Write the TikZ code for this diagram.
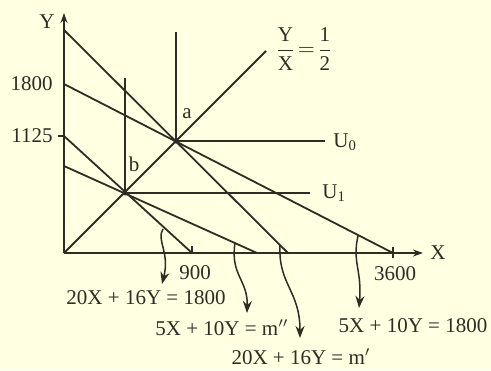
\documentclass[tikz,border=0pt]{standalone}
\usepackage{amsmath}
\usepackage{fontspec}
\setmainfont{Liberation Serif}
\usetikzlibrary{arrows.meta, calc}
\definecolor{PaperCream}{RGB}{255,255,225}
\definecolor{InkDark}{RGB}{45,45,35}

\begin{document}
\begin{tikzpicture}[x=0.5pt, y=-0.5pt, font=\fontsize{10.5}{12}\selectfont,
	linea/.style={draw=InkDark, line width=0.9pt},
	eje/.style={linea, -{Stealth[length=5pt, width=3.5pt]}},
	flecha/.style={draw=InkDark, line width=0.75pt, -{Stealth[length=6pt, width=4.5pt]}},
	etiq/.style={text=InkDark, inner sep=0pt}]

	\fill[PaperCream] (0,0) rectangle (491,370);
	\useasboundingbox (0,0) rectangle (491,370);

	% ejes
	\coordinate (O) at (64,253);
	\coordinate (Ytip) at (64,13);
	\coordinate (Xtip) at (423,253);
	\draw[eje] (O) -- (Ytip);
	\draw[eje] (O) -- (Xtip);
	\node[etiq] (ylab) at (47,22) {Y};
	\node[etiq] (xlab) at (438,253) {X};

	% puntos de equilibrio
	\coordinate (a) at (176,141);
	\coordinate (b) at (125,193);
	\fill[InkDark] (a) circle (2.5);
	\fill[InkDark] (b) circle (2.5);
	\node[etiq] (alab) at (187,114) {a};
	\node[etiq] (blab) at (134,164) {b};

	% rayo Y/X = 1/2 y curvas de indiferencia
	\coordinate (ray) at (266,51);
	\draw[linea] (O) -- (ray);
	\node[etiq] (rlab) at (304,49)
		{$\dfrac{\mbox{Y}}{\mbox{X}} \!=\! \dfrac{\mbox{1}}{\mbox{2}}$};
	\coordinate (atop) at (176,32);
	\coordinate (btop) at (125,78);
	\coordinate (aend) at (325,141);
	\coordinate (bend) at (310,193);
	\draw[linea] (atop) -- (a) -- (aend);
	\draw[linea] (btop) -- (b) -- (bend);
	\node[etiq, anchor=west] (u0) at (333,142) {U\textsubscript{0}};
	\node[etiq, anchor=west] (u1) at (322,193) {U\textsubscript{1}};

	% rectas de presupuesto
	\foreach \n/\ya/\xb in {p1/30/288, p2/84/393, p3/136/192, p4/166/257}{
		\coordinate (\n s) at (64,\ya);
		\coordinate (\n e) at (\xb,253);
		\draw[linea] (\n s) -- (\n e);
	}

	% marcas y valores
	\draw[linea] (58,136) -- (p3s);
	\draw[linea] (p3e) -- ++(0,-7);
	\draw[linea] ($(p2e)+(0,-6)$) -- ++(0,11);
	\node[etiq, anchor=east] (v1800) at (53,84) {1800};
	\node[etiq, anchor=east] (v1125) at (53,136) {1125};
	\node[etiq] (v900) at (195,273) {900};
	\node[etiq] (v3600) at (395,274) {3600};

	% etiquetas de las rectas
	\node[etiq] (e1) at (146,298) {20X + 16Y = 1800};
	\node[etiq] (e2) at (222,328) {5X + 10Y = m$''$};
	\node[etiq] (e3) at (301,357) {20X + 16Y = m$'$};
	\node[etiq] (e4) at (413,326) {5X + 10Y = 1800};

	\coordinate (f1s) at (163,229);
	\coordinate (f1t) at (162,284);
	\coordinate (f2s) at (235,243);
	\coordinate (f2t) at (247,313);
	\coordinate (f3s) at (280,245);
	\coordinate (f3t) at (300,338);
	\coordinate (f4s) at (358,236);
	\coordinate (f4t) at (359,308);
	\draw[flecha] (f1s) .. controls (156,240) and (170,252) .. (f1t);
	\draw[flecha] (f2s) .. controls (230,275) and (248,280) .. (f2t);
	\draw[flecha] (f3s) .. controls (278,285) and (300,290) .. (f3t);
	\draw[flecha] (f4s) .. controls (352,262) and (362,270) .. (f4t);
\end{tikzpicture}
\end{document}
